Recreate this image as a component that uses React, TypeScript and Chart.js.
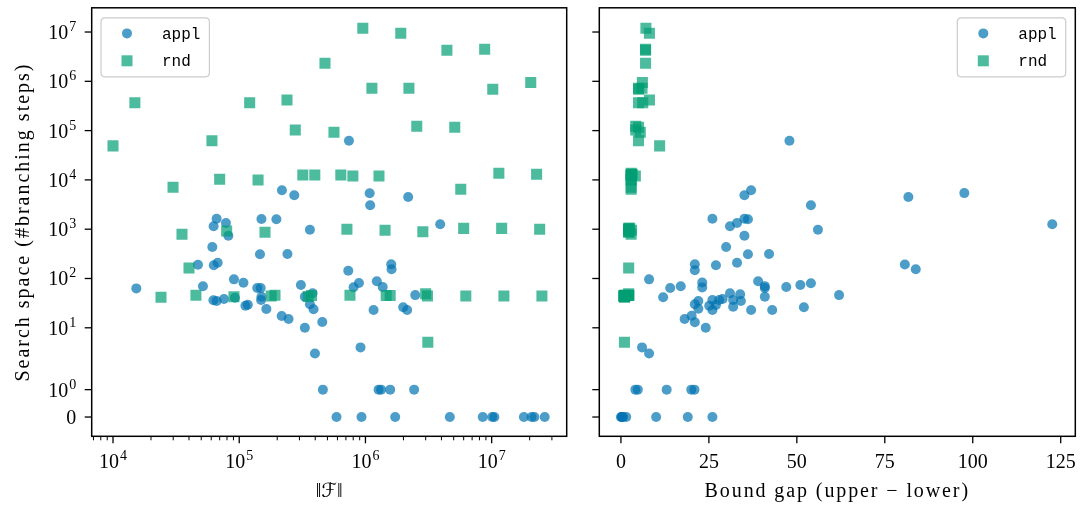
import React, { useEffect, useRef } from 'react';
import { Chart, Scale, registerables } from 'chart.js';

// ---------------- data ----------------
const seriesNames = ['appl', 'rnd'];

// left panel: appl instances (||F||, search space)
const applLeftF = [
  7.4e5, 2.18e5, 2.73e5, 1.08e6, 1.09e6, 2.18e6, 6.62e4, 7.85e4, 6.27e4, 8.2e4,
  1.5e5, 1.97e5, 3.63e5, 6.12e4, 1.46e5, 2.41e5, 4.71e4, 6.29e4, 6.75e4, 1.53e4,
  5.16e4, 9.08e4, 1.08e5, 1.39e5, 1.48e5, 1.5e5, 1.49e5, 1.64e5, 6.24e4, 6.62e4,
  7.57e4, 9.25e4, 1.12e5, 1.17e5, 2.17e5, 2.46e5, 3.08e5, 3.31e5, 3.81e5, 3.63e5,
  3.88e5, 3.31e5, 4.55e5, 3.98e5, 3.91e6, 7.31e5, 1.6e6, 1.61e6, 8.05e5, 8.88e5,
  1.23e6, 1.37e6, 2.48e6, 1.16e6, 1.99e6, 2.14e6, 9.14e5,
  4.6e5, 1.27e6, 1.33e6, 1.57e6, 2.43e6,
  5.9e5, 9.31e5, 1.72e6, 4.66e6, 8.5e6, 1.01e7, 1.05e7, 1.8e7, 2.07e7, 2.18e7, 2.63e7,
];
const applLeftSteps = [
  62400, 6150, 4870, 5350, 3050, 4500, 1630, 1340, 1150, 738,
  1610, 1590, 977, 435, 310, 314, 190, 185, 209, 63,
  69.5, 96, 82, 64, 64, 42.7, 36.6, 24, 36.1, 35,
  38.4, 40.8, 28, 29.4, 17.4, 15.1, 73.8, 42.7, 50, 30,
  23.7, 10, 13.1, 3.0, 1260, 144, 194, 154, 66.3, 81,
  87.7, 67, 46, 23, 26, 23, 4.0,
  1, 1, 1, 1, 1,
  0, 0, 0, 0, 0, 0, 0, 0, 0, 0, 0,
];

// right panel: appl instances (bound gap, search space)
const applRightGap = [
  47.9, 37.0, 35.1, 97.6, 81.7, 54.0, 122.6, 56.0, 26.0, 31.0,
  33.0, 35.1, 36.1, 35.1, 29.9, 36.1, 42.1, 33.0, 27.0, 21.0,
  21.0, 80.7, 83.8, 8.0, 14.0, 17.0, 12.0, 23.1, 23.1, 39.0,
  40.9, 40.9, 47.0, 51.0, 54.0, 62.0, 40.9, 31.0, 33.9, 34.1,
  31.9, 31.9, 28.9, 27.9, 26.0, 27.0, 25.1, 26.0, 22.0, 21.0,
  22.0, 20.1, 18.1, 21.0, 24.1, 37.0, 43.0, 52.0, 6.0, 8.0,
  4.1, 4.8, 13.0, 20.0, 20.9,
  0, 0.2, 0.4, 0.6, 1.5, 10.0, 19.0, 26.0,
];
const applRightSteps = [
  62400, 6150, 4870, 5400, 4500, 3050, 1260, 977, 1630, 1150,
  1340, 1630, 1590, 738, 435, 310, 314, 209, 185, 194,
  147, 193, 154, 96, 64, 69.5, 41.6, 83, 66, 87.7,
  70, 64, 67, 74, 80, 46, 42.7, 50, 48, 35,
  36.6, 26.8, 38.4, 36.6, 36.6, 29, 28, 23, 35, 30,
  24.4, 17.6, 15.1, 13, 10, 23, 23, 26, 4.0, 3.0,
  1, 1, 1, 1, 1,
  0, 0, 0, 0, 0, 0, 0, 0,
];

// rnd instances (||F||, bound gap, search space)
const rndF = [
  1.0e4, 1.49e4, 2.99e4, 6.08e4, 7.0e4, 1.21e5, 1.41e5, 2.39e5, 2.78e5, 3.19e5,
  9.53e5, 1.905e6, 4.42e6, 8.8e6, 4.78e5, 1.125e6, 2.21e6, 1.02e7, 2.04e7, 5.63e5,
  2.55e6, 5.1e6, 3.97e5, 6.38e5, 7.95e5, 1.28e6, 1.14e7, 2.27e7, 5.69e6, 3.52e4,
  7.95e4, 1.6e5, 4.0e4, 2.4e4, 4.54e4, 9.08e4, 1.79e5, 1.92e5, 3.52e5, 3.74e5,
  7.13e5, 1.43e6, 2.85e6, 6.0e6, 1.2e7, 2.4e7, 7.54e5, 1.46e6, 1.57e6, 3.0e6,
  3.1e6, 6.24e6, 1.25e7, 2.5e7, 3.12e6,
];
const rndGap = [
  11.0, 5.0, 2.9, 5.0, 2.9, 6.2, 2.9, 8.1, 4.2, 2.9,
  7.1, 8.1, 7.0, 7.0, 7.0, 5.0, 6.0, 5.0, 6.1, 5.5,
  4.2, 5.0, 2.9, 3.0, 2.9, 4.1, 2.9, 3.2, 2.9, 2.9,
  2.2, 2.2, 2.2, 1.0, 2.2, 1.0, 0.8, 1.2, 1.0, 2.2,
  2.2, 3.0, 2.2, 2.2, 2.5, 2.2, 1.0, 1.0, 2.2, 2.2,
  1.0, 1.0, 1.2, 0.8, 1.0,
];
const rndSteps = [
  4.9e4, 3.67e5, 7080, 6.24e4, 1.03e4, 3.68e5, 9950, 4.17e5, 1.03e5, 1.26e4,
  1.19e7, 9.4e6, 4.26e6, 4.46e6, 2.32e6, 7.2e5, 7.2e5, 6.9e5, 9.5e5, 9.24e4,
  1.22e5, 1.17e5, 1.26e4, 1.26e4, 1.2e4, 1.2e4, 1.36e4, 1.3e4, 6450, 789,
  919, 865, 163, 41.6, 45.6, 42.7, 44, 45.6, 43, 45,
  995, 950, 890, 1040, 1040, 995, 45.6, 45, 45, 49,
  44, 44, 44, 44, 5.1,
];

// ticks
const yTickValues = [0, 1, 10, 100, 1e3, 1e4, 1e5, 1e6, 1e7];
const yTickExps = [null, 0, 1, 2, 3, 4, 5, 6, 7];
const xLogMajor = [1e4, 1e5, 1e6, 1e7];
const xLogMajorExps = [4, 5, 6, 7];
const xLogMinorMult = [2, 3, 4, 5, 6, 7, 8, 9];
const xLogDecades = [1e3, 1e4, 1e5, 1e6, 1e7];
const xLinTicks = [0, 25, 50, 75, 100, 125];

const leftTitle = '\u2016\u2131\u2016';
const rightTitle = 'Bound gap (upper \u2212 lower)';
const yTitle = 'Search space (#branching steps)';

// ---------------- styles ----------------
const APPL_COLOR = 'rgba(1,115,178,0.7)';
const RND_COLOR = 'rgba(2,158,115,0.7)';
const SERIF = "'Liberation Serif', 'DejaVu Serif', 'DejaVu Sans', serif";
const BASE_FONT = `20px ${SERIF}`;
const EXP_FONT = `14px ${SERIF}`;
const MONO = "16px 'Liberation Mono', 'DejaVu Sans Mono', monospace";

// ---------------- symlog scale (linthresh 2, linscale 1, base 10) ----------------
const LINTHRESH = 2;
const LINSCALE_ADJ = 1 / (1 - 1 / 10);
function symFwd(v: number) {
  const a = Math.abs(v);
  if (a <= LINTHRESH) return v * LINSCALE_ADJ;
  return Math.sign(v) * LINTHRESH * (LINSCALE_ADJ + Math.log10(a / LINTHRESH));
}
function symInv(t: number) {
  const a = Math.abs(t);
  if (a <= LINTHRESH * LINSCALE_ADJ) return t / LINSCALE_ADJ;
  return Math.sign(t) * LINTHRESH * Math.pow(10, a / LINTHRESH - LINSCALE_ADJ);
}

class SymLogScale extends Scale {
  static id = 'symlog';
  static defaults = {};
  determineDataLimits() {
    const mm = (this as any).getMinMax(true);
    const o = (this as any).options;
    (this as any).min = typeof o.min === 'number' ? o.min : mm.min;
    (this as any).max = typeof o.max === 'number' ? o.max : mm.max;
  }
  buildTicks() {
    return yTickValues.map((v) => ({ value: v }));
  }
  configure() {
    super.configure();
    (this as any)._tMin = symFwd((this as any).min);
    (this as any)._tMax = symFwd((this as any).max);
  }
  getLabelForValue(v: number) {
    return String(v);
  }
  getPixelForValue(v: number) {
    const s = this as any;
    return s.getPixelForDecimal((symFwd(v) - s._tMin) / (s._tMax - s._tMin));
  }
  getValueForPixel(p: number) {
    const s = this as any;
    return symInv(s._tMin + s.getDecimalForPixel(p) * (s._tMax - s._tMin));
  }
}

Chart.register(...registerables, SymLogScale as any);

// ---------------- drawing helpers ----------------
function drawPow(ctx: CanvasRenderingContext2D, exp: number, x: number, baseline: number, align: 'right' | 'center') {
  ctx.font = BASE_FONT;
  const wb = ctx.measureText('10').width;
  ctx.font = EXP_FONT;
  const es = String(exp);
  const we = ctx.measureText(es).width;
  const total = wb + 1 + we;
  const start = align === 'right' ? x - total : x - total / 2;
  ctx.textAlign = 'left';
  ctx.textBaseline = 'alphabetic';
  ctx.font = BASE_FONT;
  ctx.fillText('10', start, baseline);
  ctx.font = EXP_FONT;
  ctx.fillText(es, start + wb + 1, baseline - 8);
}

function line(ctx: CanvasRenderingContext2D, x1: number, y1: number, x2: number, y2: number, w: number) {
  ctx.lineWidth = w;
  ctx.beginPath();
  ctx.moveTo(x1, y1);
  ctx.lineTo(x2, y2);
  ctx.stroke();
}

function drawLegend(ctx: CanvasRenderingContext2D, left: number, top: number) {
  const w = 108.4;
  const h = 59;
  const r = 4;
  ctx.beginPath();
  ctx.moveTo(left + r, top);
  ctx.lineTo(left + w - r, top);
  ctx.quadraticCurveTo(left + w, top, left + w, top + r);
  ctx.lineTo(left + w, top + h - r);
  ctx.quadraticCurveTo(left + w, top + h, left + w - r, top + h);
  ctx.lineTo(left + r, top + h);
  ctx.quadraticCurveTo(left, top + h, left, top + h - r);
  ctx.lineTo(left, top + r);
  ctx.quadraticCurveTo(left, top, left + r, top);
  ctx.closePath();
  ctx.fillStyle = 'rgba(255,255,255,0.8)';
  ctx.fill();
  ctx.strokeStyle = '#cccccc';
  ctx.lineWidth = 1.2;
  ctx.stroke();

  const mx = left + 26;
  const y1 = top + 15.6;
  const y2 = top + 43;
  ctx.fillStyle = APPL_COLOR;
  ctx.beginPath();
  ctx.arc(mx, y1, 5, 0, Math.PI * 2);
  ctx.fill();
  ctx.fillStyle = RND_COLOR;
  ctx.fillRect(mx - 5.5, y2 - 5.5, 11, 11);

  ctx.fillStyle = '#000';
  ctx.font = MONO;
  ctx.textAlign = 'left';
  ctx.textBaseline = 'middle';
  ctx.fillText(seriesNames[0], left + 61, y1 + 1);
  ctx.fillText(seriesNames[1], left + 61, y2 + 1);
}

function makeDecor(side: 'left' | 'right') {
  return {
    id: 'decor_' + side,
    afterDatasetsDraw(chart: any) {
      const ctx: CanvasRenderingContext2D = chart.ctx;
      const a = chart.chartArea;
      const xs = chart.scales.x;
      const ys = chart.scales.y;
      ctx.save();
      ctx.strokeStyle = '#000';
      ctx.fillStyle = '#000';
      (ctx as any).letterSpacing = '0px';

      // y ticks
      yTickValues.forEach((v, i) => {
        const py = ys.getPixelForValue(v);
        line(ctx, a.left - 7, py, a.left, py, 1.3);
        if (side === 'left') {
          const e = yTickExps[i];
          if (e === null) {
            ctx.font = BASE_FONT;
            ctx.textAlign = 'right';
            ctx.textBaseline = 'alphabetic';
            ctx.fillText('0', a.left - 15.5, py + 7);
          } else {
            drawPow(ctx, e, a.left - 15.5, py + 7, 'right');
          }
        }
      });

      // x ticks
      const xBase = a.bottom + 31.3;
      if (side === 'left') {
        xLogDecades.forEach((d) => {
          xLogMinorMult.forEach((m) => {
            const v = d * m;
            if (v < xs.min || v > xs.max) return;
            const px = xs.getPixelForValue(v);
            line(ctx, px, a.bottom, px, a.bottom + 4, 1.0);
          });
        });
        xLogMajor.forEach((v, i) => {
          const px = xs.getPixelForValue(v);
          line(ctx, px, a.bottom, px, a.bottom + 7, 1.3);
          drawPow(ctx, xLogMajorExps[i], px, xBase, 'center');
        });
      } else {
        xLinTicks.forEach((v) => {
          const px = xs.getPixelForValue(v);
          line(ctx, px, a.bottom, px, a.bottom + 7, 1.3);
          ctx.font = BASE_FONT;
          ctx.textAlign = 'center';
          ctx.textBaseline = 'alphabetic';
          ctx.fillText(String(v), px, xBase);
        });
      }

      // frame
      ctx.lineWidth = 1.5;
      ctx.strokeRect(a.left, a.top, a.right - a.left, a.bottom - a.top);

      // titles
      ctx.font = BASE_FONT;
      ctx.textAlign = 'center';
      ctx.textBaseline = 'alphabetic';
      const cx = (a.left + a.right) / 2;
      if (side === 'left') {
        ctx.fillText(leftTitle, cx, a.bottom + 61);
        ctx.save();
        (ctx as any).letterSpacing = '2px';
        ctx.translate(29, (a.top + a.bottom) / 2);
        ctx.rotate(-Math.PI / 2);
        ctx.fillText(yTitle, 0, 0);
        ctx.restore();
      } else {
        (ctx as any).letterSpacing = '1.9px';
        ctx.fillText(rightTitle, cx, a.bottom + 61);
        (ctx as any).letterSpacing = '0px';
      }

      // legend
      if (side === 'left') drawLegend(ctx, a.left + 9.3, a.top + 10);
      else drawLegend(ctx, a.right - 118, a.top + 10);

      ctx.restore();
    },
  };
}

function baseOptions(padding: any, xScale: any) {
  return {
    animation: false,
    responsive: false,
    devicePixelRatio: 1,
    events: [],
    layout: { padding },
    plugins: { legend: { display: false }, tooltip: { enabled: false } },
    scales: {
      x: xScale,
      y: { type: 'symlog', min: -0.704, max: 3.1e7, display: false },
    },
  };
}

export default function App() {
  const leftRef = useRef<HTMLCanvasElement | null>(null);
  const rightRef = useRef<HTMLCanvasElement | null>(null);

  useEffect(() => {
    const leftChart = new Chart(leftRef.current as HTMLCanvasElement, {
      type: 'scatter',
      data: {
        datasets: [
          {
            label: seriesNames[0],
            data: applLeftF.map((x, i) => ({ x, y: applLeftSteps[i] })),
            backgroundColor: APPL_COLOR,
            pointStyle: 'circle',
            pointRadius: 5,
            pointBorderWidth: 0,
            order: 1,
          },
          {
            label: seriesNames[1],
            data: rndF.map((x, i) => ({ x, y: rndSteps[i] })),
            backgroundColor: RND_COLOR,
            pointStyle: 'rect',
            pointRadius: 7.8,
            pointBorderWidth: 0,
            order: 0,
          },
        ],
      },
      options: baseOptions(
        { left: 91.7, right: 17.3, top: 7.7, bottom: 71.7 },
        { type: 'logarithmic', min: 6780, max: 3.93e7, display: false, bounds: 'data' }
      ) as any,
      plugins: [makeDecor('left')],
    });

    const rightChart = new Chart(rightRef.current as HTMLCanvasElement, {
      type: 'scatter',
      data: {
        datasets: [
          {
            label: seriesNames[0],
            data: applRightGap.map((x, i) => ({ x, y: applRightSteps[i] })),
            backgroundColor: APPL_COLOR,
            pointStyle: 'circle',
            pointRadius: 5,
            pointBorderWidth: 0,
            order: 1,
          },
          {
            label: seriesNames[1],
            data: rndGap.map((x, i) => ({ x, y: rndSteps[i] })),
            backgroundColor: RND_COLOR,
            pointStyle: 'rect',
            pointRadius: 7.8,
            pointBorderWidth: 0,
            order: 0,
          },
        ],
      },
      options: baseOptions(
        { left: 15.3, right: 8.7, top: 7.7, bottom: 71.7 },
        { type: 'linear', min: -6.15, max: 129.15, display: false, bounds: 'data' }
      ) as any,
      plugins: [makeDecor('right')],
    });

    return () => {
      leftChart.destroy();
      rightChart.destroy();
    };
  }, []);

  return (
    <div style={{ position: 'fixed', left: 0, top: 0, width: 1084, height: 508, background: '#fff' }}>
      <canvas ref={leftRef} width={584} height={508} style={{ position: 'absolute', left: 0, top: 0 }} />
      <canvas ref={rightRef} width={500} height={508} style={{ position: 'absolute', left: 584, top: 0 }} />
    </div>
  );
}
